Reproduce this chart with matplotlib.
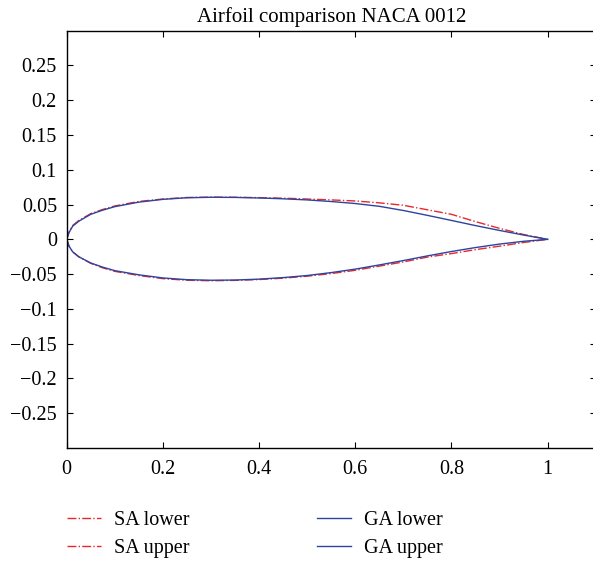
import matplotlib
matplotlib.use("Agg")
import matplotlib.pyplot as plt

# ---- data ----
x_st = [0, 0.005, 0.0125, 0.025, 0.05, 0.075, 0.1, 0.15, 0.2, 0.25, 0.3, 0.35,
        0.4, 0.45, 0.5, 0.55, 0.6, 0.65, 0.7, 0.75, 0.8, 0.85, 0.9, 0.95, 1.0]

sa_lower = [0, -0.010, -0.018, -0.025, -0.0345, -0.041, -0.046, -0.052, -0.0565,
            -0.0588, -0.0595, -0.059, -0.0578, -0.0558, -0.053, -0.0492, -0.0445,
            -0.0385, -0.0325, -0.0255, -0.0205, -0.0148, -0.0098, -0.0045, 0]
sa_upper = [0, 0.011, 0.020, 0.027, 0.037, 0.043, 0.048, 0.0545, 0.058, 0.0602,
            0.0607, 0.0605, 0.0600, 0.0592, 0.058, 0.0567, 0.0552, 0.0525, 0.049,
            0.0425, 0.036, 0.0255, 0.0158, 0.007, 0]
ga_lower = [0, -0.010, -0.018, -0.025, -0.034, -0.040, -0.045, -0.051, -0.0555,
            -0.058, -0.0588, -0.0585, -0.0572, -0.055, -0.052, -0.0478, -0.0428,
            -0.0368, -0.0305, -0.0238, -0.0175, -0.0118, -0.0068, -0.0028, 0]
ga_upper = [0, 0.010, 0.019, 0.026, 0.036, 0.042, 0.047, 0.0535, 0.0575, 0.0598,
            0.0605, 0.0603, 0.0595, 0.0583, 0.0567, 0.0544, 0.0515, 0.0475, 0.0415,
            0.0345, 0.0272, 0.0198, 0.0128, 0.0062, 0]

x_ticks = [0, 0.2, 0.4, 0.6, 0.8, 1.0]
x_tick_labels = ["0", "0.2", "0.4", "0.6", "0.8", "1"]
y_ticks = [-0.25, -0.2, -0.15, -0.1, -0.05, 0, 0.05, 0.1, 0.15, 0.2, 0.25]
y_tick_labels = ["\u22120.25", "\u22120.2", "\u22120.15", "\u22120.1", "\u22120.05",
                 "0", "0.05", "0.1", "0.15", "0.2", "0.25"]

title = "Airfoil comparison NACA 0012"
labels = ["SA lower", "SA upper", "GA lower", "GA upper"]

# ---- style ----
plt.rcParams["font.family"] = ["Liberation Serif", "DejaVu Serif"]
plt.rcParams["font.size"] = 14.5

red = "#e8282c"
blue = "#2c44a0"

fig = plt.figure(figsize=(5.93, 5.61), dpi=100)
ax = fig.add_axes([66.7 / 593, 113 / 561, 529 / 593, 417.3 / 561])

ax.plot(x_st, sa_lower, color=red, ls="-.", lw=1.0, label=labels[0])
ax.plot(x_st, sa_upper, color=red, ls="-.", lw=1.0, label=labels[1])
ax.plot(x_st, ga_lower, color=blue, ls="-", lw=1.0, label=labels[2])
ax.plot(x_st, ga_upper, color=blue, ls="-", lw=1.0, label=labels[3])

ax.set_xlim(0, 1.1)
ax.set_ylim(-0.3, 0.3)
ax.set_xticks(x_ticks)
ax.set_xticklabels(x_tick_labels)
ax.set_yticks(y_ticks)
ax.set_yticklabels(y_tick_labels)
ax.tick_params(direction="in", length=4, width=0.8, top=True, right=True,
               labelsize=14.5)
ax.tick_params(axis="x", pad=8.5)
ax.tick_params(axis="y", pad=7)
for s in ax.spines.values():
    s.set_linewidth(1.0)

ax.set_title(title, fontsize=15, pad=6)

leg = ax.legend(loc="upper left", bbox_to_anchor=(67 / 593, 1 - 511 / 561),
                bbox_transform=fig.transFigure, ncol=2, frameon=False,
                handlelength=1.7, handletextpad=0.65, columnspacing=6.3,
                borderaxespad=0, borderpad=0, labelspacing=0.42, fontsize=14.5)

fig.savefig("out.png", dpi=100)
